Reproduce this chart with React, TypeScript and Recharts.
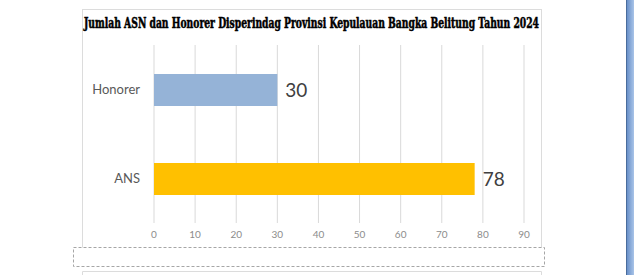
import React from "react";
import { BarChart, Bar, XAxis, YAxis, CartesianGrid, LabelList } from "recharts";

const categories = ["Honorer", "ANS"];
const jumlah = [30, 78];
const barColors = ["#95B3D7", "#FFC000"];
const xTicks = [0, 10, 20, 30, 40, 50, 60, 70, 80, 90];

const TITLE = "Jumlah ASN dan Honorer Disperindag Provinsi Kepulauan Bangka Belitung Tahun 2024";

const data = categories.map((name, i) => ({ name, value: jumlah[i], fill: barColors[i] }));

const Frame: React.FC = () => (
  <svg width={634} height={275} style={{ position: "absolute", left: 0, top: 0 }}>
    <defs>
      <linearGradient id="sideBlue" x1="0" x2="1" y1="0" y2="0">
        <stop offset="0%" stopColor="#5f88c4" />
        <stop offset="100%" stopColor="#a9c4e8" />
      </linearGradient>
    </defs>
    <rect x={82.5} y={9.5} width={459} height={250} fill="#fff" stroke="#dcdcdc" />
    <rect x={73.5} y={247.5} width={471} height={19} fill="#fff" stroke="#a6a6a6" strokeDasharray="3 2" />
    <path d="M82.5 275 V271.5 H541.5 V275" fill="none" stroke="#dcdcdc" />
    <rect x={626} y={0} width={8} height={275} fill="url(#sideBlue)" />
    <line x1={626.5} y1={0} x2={626.5} y2={275} stroke="#4a6c9c" />
    <text
      x={84}
      y={28}
      textLength={455}
      lengthAdjust="spacingAndGlyphs"
      fontFamily="'DejaVu Serif Condensed', 'DejaVu Serif', serif"
      fontStretch="condensed"
      fontWeight="bold"
      fontSize={14}
      fill="#000"
      stroke="#000"
      strokeWidth={0.5}
    >
      {TITLE}
    </text>
  </svg>
);

export default function App() {
  return (
    <div style={{ position: "absolute", left: 0, top: 0, width: 634, height: 275, background: "#fff" }}>
      <Frame />
      <div style={{ position: "absolute", left: 0, top: 0 }}>
        <BarChart
          width={634}
          height={275}
          data={data}
          layout="vertical"
          margin={{ top: 45, right: 110, bottom: 22, left: 0 }}
        >
          <CartesianGrid horizontal={false} stroke="#d9d9d9" />
          <XAxis
            type="number"
            domain={[0, 90]}
            ticks={xTicks}
            axisLine={false}
            tickLine={false}
            height={30}
            tick={{ fontSize: 10, fill: "#8c8c8c", fontFamily: "Lato, sans-serif" }}
          />
          <YAxis
            type="category"
            dataKey="name"
            width={154}
            axisLine={false}
            tickLine={false}
            tickMargin={8}
            tick={{ fontSize: 13, fill: "#595959", fontFamily: "Lato, sans-serif" }}
          />
          <Bar dataKey="value" barSize={32} isAnimationActive={false}>
            <LabelList
              dataKey="value"
              position="right"
              offset={8}
              style={{ fontSize: 19, fill: "#404040", fontFamily: "Lato, sans-serif" }}
            />
          </Bar>
        </BarChart>
      </div>
    </div>
  );
}
